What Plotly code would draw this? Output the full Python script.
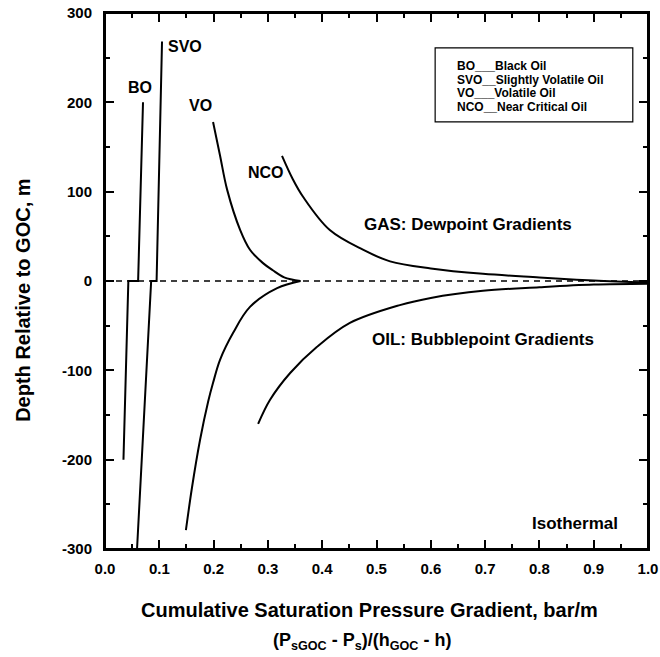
import plotly.graph_objects as go

# ---- data (x: cumulative saturation pressure gradient, bar/m; d: depth rel. to GOC, m)
bo_x = [0.034, 0.043, 0.061, 0.070]
bo_d = [-200, 0, 0, 200]

svo_x = [0.059, 0.085, 0.095, 0.105]
svo_d = [-300, 0, 0, 268]

vo_gas_x = [0.199, 0.212, 0.225, 0.249, 0.267, 0.291, 0.309, 0.330, 0.360]
vo_gas_d = [178, 140, 102, 57, 35, 20, 12, 4, 0]
vo_oil_x = [0.360, 0.317, 0.267, 0.236, 0.212, 0.199, 0.190, 0.175, 0.160, 0.149]
vo_oil_d = [0, -8, -29, -58, -88, -114, -135, -178, -232, -279]

nco_gas_x = [0.326, 0.345, 0.365, 0.414, 0.475, 0.525, 0.600, 0.696, 0.800, 0.900, 1.000]
nco_gas_d = [140, 115, 94, 57, 35, 22, 14, 8, 4, 0.5, -2]
nco_oil_x = [0.282, 0.304, 0.341, 0.390, 0.451, 0.543, 0.600, 0.696, 0.800, 0.900, 1.000]
nco_oil_d = [-160, -133, -103, -74, -47, -27, -19, -11, -7, -4, -3]

goc_x = [0.0, 1.0]
goc_d = [0, 0]

y_ticks = [300, 200, 100, 0, -100, -200, -300]
y_ticktext = ["300", "200", "100", "0", "-100", "-200", "-300"]
y_minor = [250, 150, 50, -50, -150, -250]
x_ticks = [0.0, 0.1, 0.2, 0.3, 0.4, 0.5, 0.6, 0.7, 0.8, 0.9, 1.0]
x_ticktext = ["0.0", "0.1", "0.2", "0.3", "0.4", "0.5", "0.6", "0.7", "0.8", "0.9", "1.0"]
x_minor = [0.05, 0.15, 0.25, 0.35, 0.45, 0.55, 0.65, 0.75, 0.85, 0.95]

legend_lines = ["BO___Black Oil", "SVO__Slightly Volatile Oil",
                "VO___Volatile Oil", "NCO__Near Critical Oil"]

FONT = "Liberation Sans, Arial, Helvetica, sans-serif"
LW = 2

fig = go.Figure()
line = dict(color="black", width=LW)
fig.add_trace(go.Scatter(x=goc_x, y=goc_d, mode="lines",
                         line=dict(color="black", width=1.5, dash="6px,5px")))
for xs, ds in [(bo_x, bo_d), (svo_x, svo_d)]:
    fig.add_trace(go.Scatter(x=xs, y=ds, mode="lines", line=line))
for xs, ds in [(vo_gas_x, vo_gas_d), (vo_oil_x, vo_oil_d),
               (nco_gas_x, nco_gas_d), (nco_oil_x, nco_oil_d)]:
    fig.add_trace(go.Scatter(x=xs, y=ds, mode="lines", line=line, line_shape="spline"))
# empty trace to host the minor-tick overlay axes
fig.add_trace(go.Scatter(x=[], y=[], xaxis="x2", yaxis="y2", mode="lines",
                         hoverinfo="skip"))

def lab(text, x, y, size=16, xanchor="center"):
    fig.add_annotation(x=x, y=y, xref="x", yref="y", text=f"<b>{text}</b>",
                       showarrow=False, xanchor=xanchor, yanchor="middle",
                       font=dict(family=FONT, size=size, color="black"))

lab("BO", 0.064, 217)
lab("SVO", 0.148, 262)
lab("VO", 0.175, 196)
lab("NCO", 0.297, 121)
lab("GAS: Dewpoint Gradients", 0.668, 63, size=17)
lab("OIL: Bubblepoint Gradients", 0.697, -66, size=17)
lab("Isothermal", 0.948, -271, size=17, xanchor="right")

# legend box
fig.add_shape(type="rect", xref="paper", yref="paper",
              x0=0.608, x1=0.972, y0=0.797, y1=0.935,
              line=dict(color="black", width=1.2))
for i, t in enumerate(legend_lines):
    fig.add_annotation(xref="paper", yref="paper", x=0.645, y=0.901 - i * 0.0252,
                       xanchor="left", yanchor="middle", align="left", showarrow=False,
                       text=f"<b>{t}</b>",
                       font=dict(family=FONT, size=12, color="black"))

# frame
fig.add_shape(type="rect", xref="x domain", yref="y domain", x0=0, x1=1, y0=0, y1=1,
              line=dict(color="black", width=LW), layer="above")

# axis titles
fig.add_annotation(xref="paper", yref="paper", x=0.488, y=-0.114,
                   xanchor="center", yanchor="middle", showarrow=False,
                   text="<b>Cumulative Saturation Pressure Gradient, bar/m</b>",
                   font=dict(family=FONT, size=20, color="black"))
fig.add_annotation(xref="paper", yref="paper", x=-0.151, y=0.463,
                   xanchor="center", yanchor="middle", showarrow=False, textangle=-90,
                   text="<b>Depth Relative to GOC, m</b>",
                   font=dict(family=FONT, size=20, color="black"))
fig.add_annotation(xref="paper", yref="paper", x=0.473, y=-0.172,
                   xanchor="center", yanchor="middle", showarrow=False,
                   text="<b>(P<sub>sGOC</sub> - P<sub>s</sub>)/(h<sub>GOC</sub> - h)</b>",
                   font=dict(family=FONT, size=18, color="black"))

axis_common = dict(showgrid=False, zeroline=False, showline=True, linecolor="black",
                   linewidth=LW, mirror="allticks", ticks="inside", ticklen=9,
                   tickwidth=2, tickcolor="black", automargin=False,
                   tickfont=dict(family=FONT, size=15, color="black"))
minor_common = dict(showgrid=False, zeroline=False, showline=False, mirror="allticks",
                    ticks="inside", ticklen=5, tickwidth=1.5, tickcolor="black",
                    showticklabels=False, automargin=False)

fig.update_layout(
    xaxis=dict(range=[0, 1.0], tickvals=x_ticks, ticklabelstandoff=5,
               ticktext=[f"<b>{t}</b>" for t in x_ticktext], **axis_common),
    yaxis=dict(range=[-300, 300], tickvals=y_ticks, ticklabelstandoff=8,
               ticktext=[f"<b>{t}</b>" for t in y_ticktext], **axis_common),
    xaxis2=dict(range=[0, 1.0], tickvals=x_minor, overlaying="x", anchor="y2",
                side="bottom", **minor_common),
    yaxis2=dict(range=[-300, 300], tickvals=y_minor, overlaying="y", anchor="x2",
                side="left", **minor_common),
)

fig.update_layout(width=660, height=657, showlegend=False,
                  margin=dict(l=105, r=12, t=13, b=108),
                  plot_bgcolor="white", paper_bgcolor="white",
                  font=dict(family=FONT, color="black"))

fig.write_html("out.html")
